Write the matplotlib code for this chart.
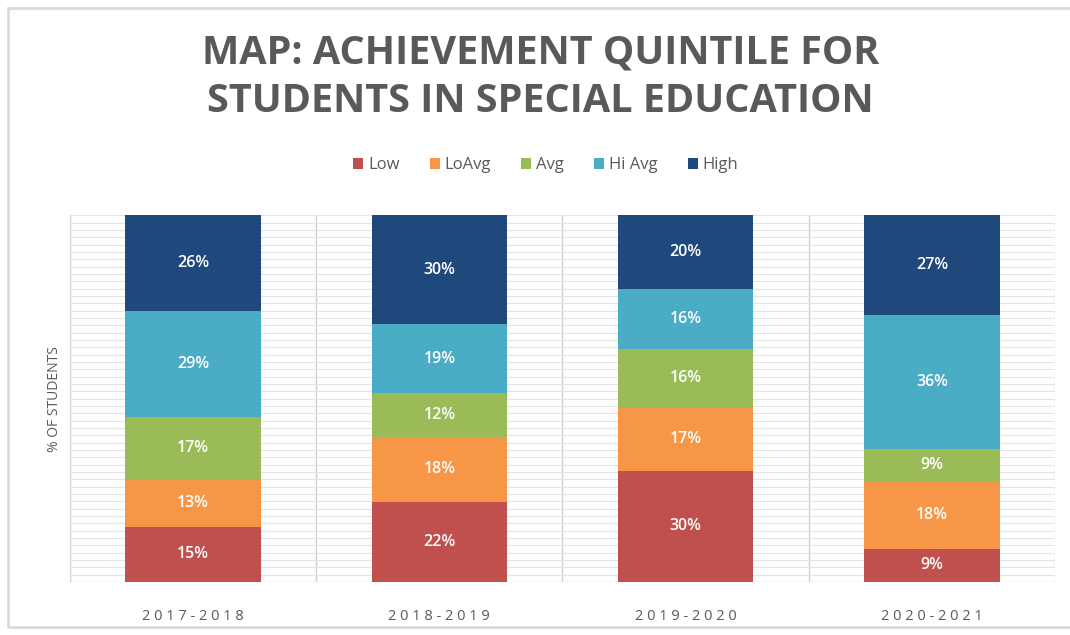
import numpy as np
import matplotlib
matplotlib.use("Agg")
import matplotlib.pyplot as plt
from matplotlib.patches import Rectangle

years = ["2017-2018", "2018-2019", "2019-2020", "2020-2021"]
levels = ["Low", "LoAvg", "Avg", "Hi Avg", "High"]
low = [15, 22, 30, 9]
loavg = [13, 18, 17, 18]
avg = [17, 12, 16, 9]
hiavg = [29, 19, 16, 36]
high = [26, 30, 20, 27]
colors = ["#C0504D", "#F79646", "#9BBB59", "#4BACC6", "#1F497D"]

series = np.array([low, loavg, avg, hiavg, high], dtype=float)
shares = series / series.sum(axis=0) * 100  # 100% stacked, like excel

plt.rcParams["font.family"] = ["Open Sans", "DejaVu Sans"]

fig = plt.figure(figsize=(10.7, 6.35), dpi=100)
ax = fig.add_axes([0.0654, 0.0835, 0.9206, 0.5775])

x = np.arange(len(years))
bottom = np.zeros(len(years))
for i, name in enumerate(levels):
    ax.bar(x, shares[i], 0.55, bottom=bottom, color=colors[i], label=name, zorder=3)
    for j in range(len(years)):
        ax.text(x[j], bottom[j] + shares[i][j] / 2, f"{int(series[i][j])}%",
                ha="center", va="center", color="white", fontsize=11.5,
                fontweight="semibold", zorder=4)
    bottom += shares[i]

ax.set_xlim(-0.5, len(years) - 0.5)
ax.set_ylim(0, 100)
ax.set_yticks(np.arange(0, 101, 2))
ax.yaxis.grid(True, color="#e4e4e4", lw=0.8, zorder=0)
for b in np.arange(-0.5, len(years), 1):
    ax.axvline(b, color="#d0d0d0", lw=1, zorder=1)
ax.tick_params(left=False, labelleft=False, bottom=False)
for s in ax.spines.values():
    s.set_visible(False)
ax.axhline(0, color="#d0d0d0", lw=1, zorder=2)

ax.set_xticks(x)
ax.set_xticklabels([" ".join(y) for y in years], fontsize=10.5, color="#595959")
ax.tick_params(axis="x", pad=16)

ax.set_ylabel("% OF STUDENTS", fontsize=10, color="#595959", labelpad=6)

fig.text(0.505, 0.878, "MAP: ACHIEVEMENT QUINTILE FOR\nSTUDENTS IN SPECIAL EDUCATION",
         ha="center", va="center", fontsize=28.5, fontweight="bold", color="#595959",
         linespacing=1.32)

fig.legend(loc="center", bbox_to_anchor=(0.51, 0.74), ncol=5, frameon=False,
           fontsize=12, handlelength=0.6, handleheight=0.6, handletextpad=0.3,
           columnspacing=1.8, labelcolor="#595959")

fig.add_artist(Rectangle((8 / 1070, 8 / 635), 1.0, 619 / 635, transform=fig.transFigure,
                         fill=False, edgecolor="#d9d9d9", lw=2))

fig.savefig("out.png", dpi=100)
